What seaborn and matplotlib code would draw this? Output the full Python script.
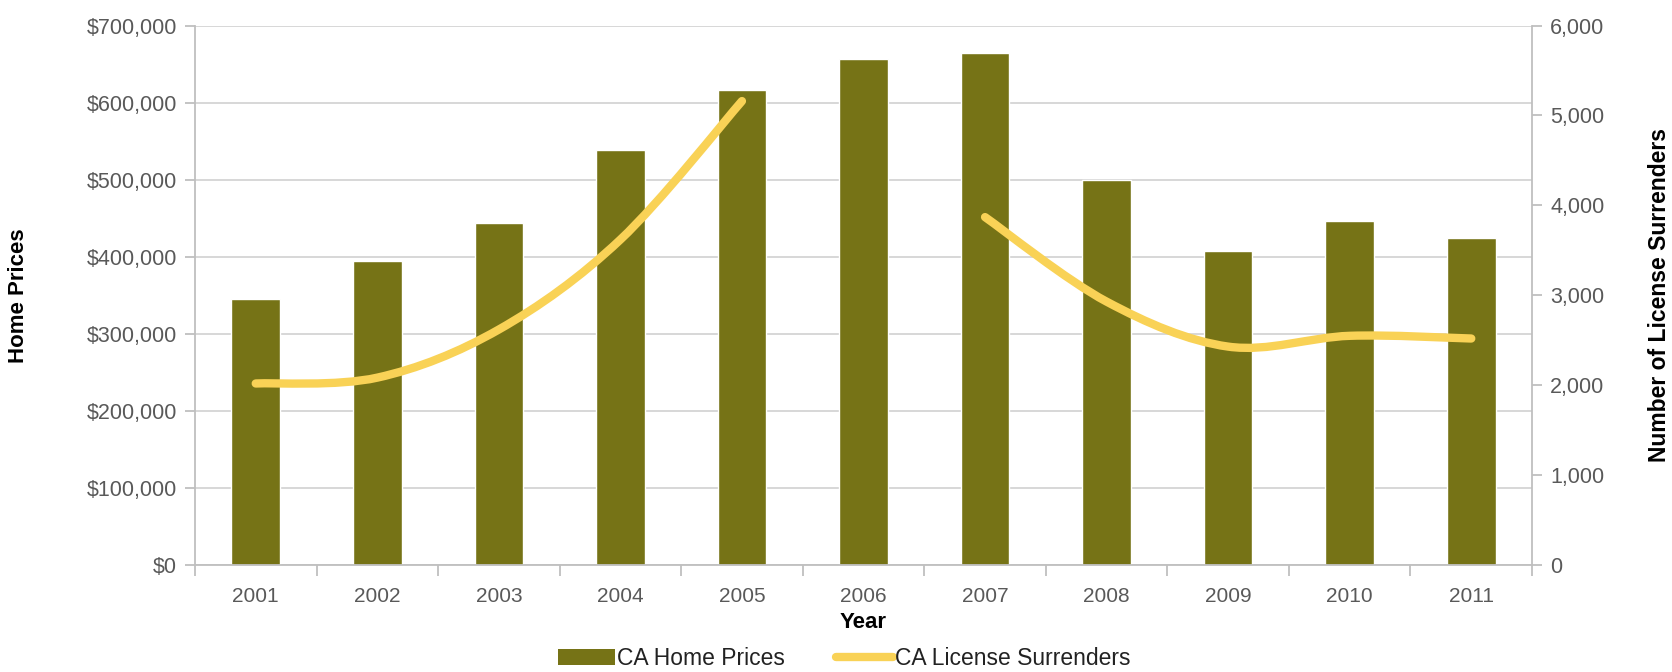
import numpy as np
import pandas as pd
import seaborn as sns
import matplotlib
matplotlib.use("Agg")
import matplotlib.pyplot as plt
from matplotlib.path import Path
from matplotlib.patches import PathPatch, Patch
from matplotlib.lines import Line2D
from matplotlib.ticker import FuncFormatter, FixedLocator

# ---- data ----
years = ['2001', '2002', '2003', '2004', '2005', '2006', '2007', '2008', '2009', '2010', '2011']
home_prices = [345000, 395000, 444000, 539000, 616000, 657000, 665000, 499000, 407000, 446000, 425000]
license_surrenders = [2020, 2085, 2620, 3620, 5160, np.nan, 3870, 2930, 2430, 2550, 2520]

bar_color = '#767316'
line_color = '#F9D256'
grid_color = '#D4D4D4'
axis_color = '#BFBFBF'
tick_color = '#595959'

sns.set_theme(style="white")
plt.rcParams['font.family'] = ['Liberation Sans', 'DejaVu Sans']

fig = plt.figure(figsize=(16.72, 6.72), dpi=100)
ax = fig.add_axes([0.1166, 0.159, 0.7997, 0.803])

df = pd.DataFrame({'Year': years, 'Price': home_prices})
sns.barplot(data=df, x='Year', y='Price', color=bar_color, saturation=1, width=0.4, ax=ax)
ax.set_xlim(-0.5, len(years) - 0.5)
ax.set_ylim(0, 700000)
ax.set_yticks(np.arange(0, 700001, 100000))
ax.yaxis.set_major_formatter(FuncFormatter(lambda v, p: f"${v:,.0f}"))
ax.set_axisbelow(True)
ax.grid(axis='y', color=grid_color, linewidth=1.3)
ax.grid(axis='x', visible=False)

for s in ['top', 'right']:
    ax.spines[s].set_visible(False)
for s in ['left', 'bottom']:
    ax.spines[s].set_color(axis_color)
    ax.spines[s].set_linewidth(1.3)

ax.tick_params(axis='y', length=7, width=1.3, color=axis_color, labelcolor=tick_color, labelsize=15.5, pad=6, left=True)
ax.tick_params(axis='x', which='major', length=0, labelcolor=tick_color, labelsize=15, pad=16)
ax.xaxis.set_minor_locator(FixedLocator(np.arange(-0.5, len(years), 1.0)))
ax.tick_params(axis='x', which='minor', length=8, width=1.3, color=axis_color, bottom=True)

ax.set_ylabel('Home Prices', fontsize=16, fontweight='bold', color='black')
ax.yaxis.set_label_coords(-0.124, 0.5)
ax.set_xlabel('Year', fontsize=16, fontweight='bold', color='black')
ax.xaxis.set_label_coords(0.5, -0.087)

# secondary axis
ax2 = ax.twinx()
ax2.set_ylim(0, 6000)
ax2.set_yticks(np.arange(0, 6001, 1000))
ax2.yaxis.set_major_formatter(FuncFormatter(lambda v, p: f"{v:,.0f}"))
for s in ['top', 'left', 'bottom']:
    ax2.spines[s].set_visible(False)
ax2.spines['right'].set_color(axis_color)
ax2.spines['right'].set_linewidth(1.3)
ax2.tick_params(axis='y', length=7, width=1.3, color=axis_color, labelcolor=tick_color, labelsize=15.5, pad=6, right=True)
ax2.grid(False)
ax2.set_ylabel('Number of License Surrenders', fontsize=16.5, fontweight='bold', color='black', rotation=90)
ax2.yaxis.set_label_coords(1.087, 0.5)

# smoothed line segments (Catmull-Rom -> Bezier), split at missing values
xs = np.arange(len(years), dtype=float)
ys = np.array(license_surrenders, dtype=float)
segments = []
cur = []
for xi, yi in zip(xs, ys):
    if np.isnan(yi):
        if cur:
            segments.append(cur)
        cur = []
    else:
        cur.append((xi, yi))
if cur:
    segments.append(cur)

for seg in segments:
    P = np.array(seg)
    n = len(P)
    verts = [tuple(P[0])]
    codes = [Path.MOVETO]
    for i in range(n - 1):
        p0 = P[i - 1] if i > 0 else P[i]
        p1 = P[i]
        p2 = P[i + 1]
        p3 = P[i + 2] if i + 2 < n else P[i + 1]
        c1 = p1 + (p2 - p0) / 6.0
        c2 = p2 - (p3 - p1) / 6.0
        verts += [tuple(c1), tuple(c2), tuple(p2)]
        codes += [Path.CURVE4] * 3
    patch = PathPatch(Path(verts, codes), fill=False, edgecolor=line_color,
                      linewidth=6, capstyle='round', joinstyle='round', transform=ax2.transData)
    ax2.add_patch(patch)

handles = [Patch(facecolor=bar_color, edgecolor='none', label='CA Home Prices'),
           Line2D([0], [0], color=line_color, linewidth=6, label='CA License Surrenders')]
fig.legend(handles=handles, loc='center', bbox_to_anchor=(0.505, 0.02), ncol=2, frameon=False,
           fontsize=16.5, handlelength=2.5, handletextpad=0.1, columnspacing=2.2, labelcolor='#222222')

fig.savefig('out.png', dpi=100)
